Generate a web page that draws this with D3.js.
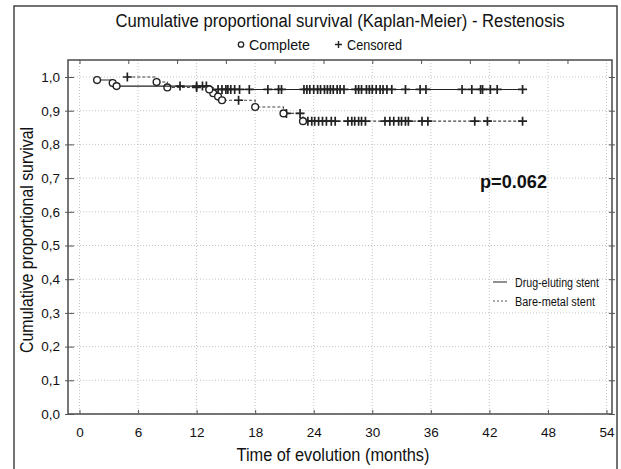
<!DOCTYPE html>
<html>
<head>
<meta charset="utf-8">
<script src="https://cdn.jsdelivr.net/npm/d3@7"></script>
<style>
  body { margin: 0; background: #fff; }
  text { font-family: "Liberation Sans", Arial, sans-serif; fill: #111; }
</style>
</head>
<body>
<div class="display"></div>
<script>
// Kaplan-Meier survival, restenosis, two stent groups

const WIDTH = 621;
const HEIGHT = 469;

// Plot box (frame) and where the data domain sits inside it
const BOX = { left: 68, right: 612, top: 60, bottom: 414 };
const X_RANGE = [79.5, 606.5];
const Y_RANGE = [414, 77];

// Data: [months, survival after event]
const desEvents = [[1.8, 0.991], [3.4, 0.982], [3.8, 0.973], [13.3, 0.963]];
const desCensored = [10.3, 12.0, 12.6, 13.0, 14.2, 14.6, 15.0, 15.2, 15.5, 15.9, 16.4, 17.4, 19.3, 20.4, 20.7,
  23.0, 23.3, 23.6, 24.0, 24.4, 24.7, 25.1, 25.4, 25.7, 26.0, 26.4, 26.7, 27.1, 28.3, 28.6, 28.9, 29.4, 29.7,
  30.0, 30.4, 30.8, 31.1, 31.5, 32.0, 33.4, 34.9, 35.5, 39.2, 40.2, 41.1, 41.3, 42.1, 42.8, 45.4];

const bmsEvents = [[7.9, 0.985], [9.0, 0.969], [13.7, 0.952], [14.2, 0.942], [14.6, 0.931], [18.0, 0.911],
  [20.9, 0.892], [22.9, 0.869]];
const bmsCensored = [4.9, 12.0, 16.3, 21.2, 22.6, 23.4, 23.8, 24.1, 24.5, 24.9, 25.3, 25.8, 26.2, 27.5, 27.9,
  28.2, 28.6, 28.9, 29.3, 31.3, 31.8, 32.2, 32.7, 33.0, 33.4, 33.7, 35.1, 35.7, 40.5, 41.8, 45.4];

const xTicks = [0, 6, 12, 18, 24, 30, 36, 42, 48, 54];
const xTopTicks = [0, 5, 10, 15, 20, 25, 30, 35, 40, 45, 50];
const yTicks = [0, 0.1, 0.2, 0.3, 0.4, 0.5, 0.6, 0.7, 0.8, 0.9, 1.0];

const groupNames = ['Drug-eluting stent', 'Bare-metal stent'];
const pValue = 'p=0.062';

let svg, plot, x, y;

function setupSvg() {
  svg = d3.select('.display')
    .append('svg')
    .attr('width', WIDTH)
    .attr('height', HEIGHT);

  x = d3.scaleLinear().domain([0, 54]).range(X_RANGE);
  y = d3.scaleLinear().domain([0, 1]).range(Y_RANGE);

  // outer frame, runs off the bottom of the picture
  svg.append('rect')
    .attr('x', 14).attr('y', 6)
    .attr('width', 603).attr('height', 480)
    .attr('fill', 'none').attr('stroke', '#444').attr('stroke-width', 1.5);

  plot = svg.append('g');
}

// Dotted grid, frame and the small tick marks of all four sides
function drawAxes() {
  plot.selectAll('.vgrid').data(xTicks).enter()
    .append('line')
    .attr('x1', d => x(d)).attr('x2', d => x(d))
    .attr('y1', BOX.top).attr('y2', BOX.bottom)
    .attr('stroke', '#c4c4c4').attr('stroke-dasharray', '1,2');

  plot.selectAll('.hgrid').data(yTicks).enter()
    .append('line')
    .attr('x1', BOX.left).attr('x2', BOX.right)
    .attr('y1', d => y(d)).attr('y2', d => y(d))
    .attr('stroke', '#c4c4c4').attr('stroke-dasharray', '1,2');

  plot.append('rect')
    .attr('x', BOX.left).attr('y', BOX.top)
    .attr('width', BOX.right - BOX.left).attr('height', BOX.bottom - BOX.top)
    .attr('fill', 'none').attr('stroke', '#555').attr('stroke-width', 1.6);

  const bottomAxis = d3.axisBottom(x).tickValues(xTicks).tickSize(-4).tickFormat(d3.format('d'));
  const gx = plot.append('g').attr('transform', `translate(0, ${BOX.bottom})`).call(bottomAxis);
  gx.select('.domain').remove();
  gx.selectAll('.tick line').attr('stroke', '#555');
  gx.selectAll('.tick text')
    .attr('y', 13)
    .style('font-size', '13.5px')
    .style('font-family', '"Liberation Sans", Arial, sans-serif')
    .attr('fill', '#111');

  const topAxis = d3.axisTop(x).tickValues(xTopTicks).tickSize(-4).tickFormat('');
  const gt = plot.append('g').attr('transform', `translate(0, ${BOX.top})`).call(topAxis);
  gt.select('.domain').remove();
  gt.selectAll('.tick line').attr('stroke', '#555');

  const leftAxis = d3.axisLeft(y).tickValues(yTicks).tickSize(3)
    .tickFormat(d => d3.format('.1f')(d).replace('.', ','));
  const gy = plot.append('g').attr('transform', `translate(${BOX.left}, 0)`).call(leftAxis);
  gy.select('.domain').remove();
  gy.selectAll('.tick line').attr('x2', 6).attr('x1', -3).attr('stroke', '#555');
  gy.selectAll('.tick text')
    .attr('x', -8)
    .style('font-size', '13.5px')
    .style('font-family', '"Liberation Sans", Arial, sans-serif')
    .attr('fill', '#111');

  const rightAxis = d3.axisRight(y).tickValues(yTicks).tickSize(3).tickFormat('');
  const gr = plot.append('g').attr('transform', `translate(${BOX.right}, 0)`).call(rightAxis);
  gr.select('.domain').remove();
  gr.selectAll('.tick line').attr('x1', -3).attr('x2', 3).attr('stroke', '#555');
}

// survival at time t for a group (step value after all events up to t)
function survivalAt(events, t) {
  let s = 1;
  events.forEach(e => { if (e[0] <= t) s = e[1]; });
  return s;
}

function drawGroup(events, censored, dash, color) {
  const pts = events.map(e => ({ t: e[0], s: e[1] }))
    .concat(censored.map(t => ({ t: t, s: survivalAt(events, t) })))
    .sort((a, b) => a.t - b.t);

  const line = d3.line()
    .x(d => x(d.t))
    .y(d => y(d.s))
    .curve(d3.curveStepAfter);

  plot.append('path')
    .attr('d', line(pts))
    .attr('fill', 'none')
    .attr('stroke', color)
    .attr('stroke-width', 1.1)
    .attr('stroke-dasharray', dash);

  plot.selectAll(null).data(censored).enter()
    .append('path')
    .attr('d', t => {
      const cx = x(t), cy = y(survivalAt(events, t));
      return `M${cx - 4.5},${cy}H${cx + 4.5}M${cx},${cy - 4.5}V${cy + 4.5}`;
    })
    .attr('stroke', '#222')
    .attr('stroke-width', 1.7);

  plot.selectAll(null).data(events).enter()
    .append('circle')
    .attr('cx', d => x(d[0]))
    .attr('cy', d => y(d[1]))
    .attr('r', 3.4)
    .attr('fill', '#fff')
    .attr('stroke', '#222')
    .attr('stroke-width', 1.4);
}

function drawTexts() {
  svg.append('text')
    .attr('x', 340).attr('y', 27)
    .attr('text-anchor', 'middle')
    .attr('textLength', 449).attr('lengthAdjust', 'spacingAndGlyphs')
    .style('font-size', '18px')
    .text('Cumulative proportional survival (Kaplan-Meier) - Restenosis');

  // marker key
  svg.append('circle').attr('cx', 241).attr('cy', 44.5).attr('r', 2.7)
    .attr('fill', '#fff').attr('stroke', '#222').attr('stroke-width', 1.3);
  svg.append('text').attr('x', 249).attr('y', 49.5)
    .attr('textLength', 61).attr('lengthAdjust', 'spacingAndGlyphs')
    .style('font-size', '14.5px').text('Complete');
  svg.append('path').attr('d', 'M335,44.5H342M338.5,41V48')
    .attr('stroke', '#222').attr('stroke-width', 1.4);
  svg.append('text').attr('x', 347).attr('y', 49.5)
    .attr('textLength', 55).attr('lengthAdjust', 'spacingAndGlyphs')
    .style('font-size', '14.5px').text('Censored');

  svg.append('text')
    .attr('transform', 'translate(33, 240) rotate(-90)')
    .attr('text-anchor', 'middle')
    .attr('textLength', 226).attr('lengthAdjust', 'spacingAndGlyphs')
    .style('font-size', '18px')
    .text('Cumulative proportional survival');

  svg.append('text')
    .attr('x', 333).attr('y', 461)
    .attr('text-anchor', 'middle')
    .attr('textLength', 193).attr('lengthAdjust', 'spacingAndGlyphs')
    .style('font-size', '18px')
    .text('Time of evolution (months)');

  svg.append('text')
    .attr('x', 480).attr('y', 188)
    .attr('textLength', 67).attr('lengthAdjust', 'spacingAndGlyphs')
    .style('font-size', '18px').style('font-weight', 'bold')
    .text(pValue);

  // group legend
  const legend = svg.append('g');
  const styles = [{ dash: null, color: '#222', y: 282, len: 84 }, { dash: '2,2', color: '#555', y: 301, len: 80 }];
  groupNames.forEach((name, i) => {
    legend.append('line')
      .attr('x1', 493).attr('x2', 507)
      .attr('y1', styles[i].y).attr('y2', styles[i].y)
      .attr('stroke', styles[i].color).attr('stroke-width', 1)
      .attr('stroke-dasharray', styles[i].dash);
    legend.append('text')
      .attr('x', 515).attr('y', styles[i].y + 4.5)
      .attr('textLength', styles[i].len).attr('lengthAdjust', 'spacingAndGlyphs')
      .style('font-size', '12.5px')
      .text(name);
  });
}

setupSvg();
drawAxes();
drawGroup(bmsEvents, bmsCensored, '3,2', '#444');
drawGroup(desEvents, desCensored, null, '#222');
drawTexts();
</script>
</body>
</html>
